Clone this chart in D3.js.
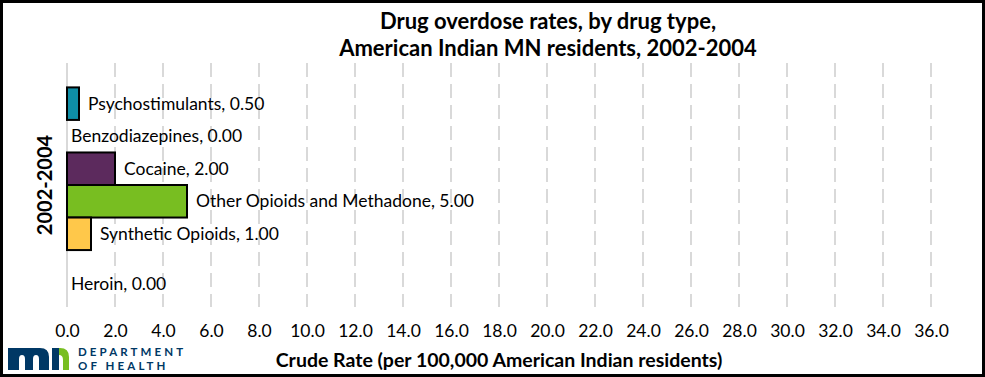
<!DOCTYPE html>
<html lang="en">
<head>
    <meta charset="UTF-8">
    <title>Drug overdose rates, by drug type</title>
    <script src="https://d3js.org/d3.v7.min.js"></script>
    <style>
        body {
            margin: 0;
            font-family: Lato, "Open Sans", Arial, sans-serif;
        }

        svg {
            display: block;
        }
    </style>
</head>
<body>
    <svg id="chart" width="985" height="377"></svg>
    <script>
        // data
        const drugTypes = ["Psychostimulants", "Benzodiazepines", "Cocaine", "Other Opioids and Methadone", "Synthetic Opioids", "Heroin"];
        const rates = [0.5, 0, 2, 5, 1, 0];
        const colors = ["#0E8EA6", "#A0A0A0", "#5C2A5D", "#78BE21", "#FFC84A", "#003865"];
        const period = "2002-2004";
        const xTicks = [0, 2, 4, 6, 8, 10, 12, 14, 16, 18, 20, 22, 24, 26, 28, 30, 32, 34, 36];

        const W = 985, H = 377;
        const plot = { left: 67, right: 931, top: 63, bottom: 307 };

        const svg = d3.select("#chart");

        svg.append("rect")
            .attr("x", 1.5).attr("y", 1.5)
            .attr("width", W - 3).attr("height", H - 3)
            .attr("fill", "white")
            .attr("stroke", "black")
            .attr("stroke-width", 3);

        const x = d3.scaleLinear()
            .domain([0, 36])
            .range([plot.left, plot.right]);

        const y = d3.scaleBand()
            .domain(drugTypes)
            .range([plot.top, plot.bottom])
            .paddingInner(0)
            .paddingOuter(0.75);

        // gridlines
        svg.append("g")
            .selectAll("line")
            .data(xTicks.filter(d => d > 0))
            .enter()
            .append("line")
            .attr("x1", d => x(d)).attr("x2", d => x(d))
            .attr("y1", plot.top).attr("y2", plot.bottom)
            .attr("stroke", "#d9d9d9")
            .attr("stroke-width", 2)
            .attr("stroke-dasharray", "14,7");

        svg.append("line")
            .attr("x1", x(0)).attr("x2", x(0))
            .attr("y1", plot.top).attr("y2", plot.bottom)
            .attr("stroke", "#d9d9d9")
            .attr("stroke-width", 2);

        // x axis labels
        const xAxis = svg.append("g")
            .attr("transform", `translate(0, 337)`)
            .call(d3.axisBottom(x).tickValues(xTicks).tickFormat(d3.format(".1f")).tickSize(0).tickPadding(0));
        xAxis.select(".domain").remove();
        xAxis.selectAll("text")
            .attr("y", 0).attr("dy", 0)
            .attr("font-family", "Lato, 'Open Sans', sans-serif")
            .attr("font-size", 17.5)
            .attr("fill", "#000");

        const data = drugTypes.map((d, i) => ({ name: d, value: rates[i], color: colors[i] }));

        svg.append("g")
            .selectAll("rect")
            .data(data.filter(d => d.value > 0))
            .enter()
            .append("rect")
            .attr("x", x(0))
            .attr("y", d => y(d.name))
            .attr("width", d => x(d.value) - x(0))
            .attr("height", y.bandwidth())
            .attr("fill", d => d.color)
            .attr("stroke", "#000")
            .attr("stroke-width", 2);

        // Excel pushed the Heroin label a little lower
        const labelShift = { "Heroin": 18 };

        svg.append("g")
            .selectAll("text")
            .data(data)
            .enter()
            .append("text")
            .attr("x", d => x(d.value) + (d.value > 0 ? 9 : 4))
            .attr("y", d => y(d.name) + y.bandwidth() / 2 + (labelShift[d.name] || 0))
            .attr("dy", "0.35em")
            .attr("font-size", 17.5)
            .attr("fill", "#000")
            .text(d => `${d.name}, ${d.value.toFixed(2)}`);

        // titles
        const title = svg.append("text")
            .attr("x", 548)
            .attr("text-anchor", "middle")
            .attr("font-size", 22)
            .attr("font-weight", "bold");
        title.append("tspan").attr("x", 548).attr("y", 29).text("Drug overdose rates, by drug type,");
        title.append("tspan").attr("x", 548).attr("y", 56).text("American Indian MN residents, 2002-2004");

        svg.append("text")
            .attr("x", (plot.left + plot.right) / 2)
            .attr("y", 367)
            .attr("text-anchor", "middle")
            .attr("font-size", 19.5)
            .attr("font-weight", "bold")
            .text("Crude Rate (per 100,000 American Indian residents)");

        svg.append("text")
            .attr("transform", `translate(52, ${(plot.top + plot.bottom) / 2}) rotate(-90)`)
            .attr("text-anchor", "middle")
            .attr("font-size", 20)
            .attr("font-weight", "bold")
            .text(period);

        // MDH logo
        const logo = svg.append("g");
        logo.append("path")
            .attr("d", "M8,370 V348 H40 Q49,348 49,357 V370 Z")
            .attr("fill", "#003865");
        logo.append("path")
            .attr("d", "M19,371 V359 Q19,355 22,355 Q25,355 25,359 V371 Z M33,371 V359 Q33,355 36,355 Q39,355 39,359 V371 Z")
            .attr("fill", "white");
        logo.append("rect")
            .attr("x", 52).attr("y", 348).attr("width", 7).attr("height", 22)
            .attr("fill", "#003865");
        logo.append("path")
            .attr("d", "M59,348 H60 Q69,348 69,357 V370 H63 V360 Q63,355 59,355 Z")
            .attr("fill", "#78BE21");
        logo.append("text")
            .attr("x", 78).attr("y", 356)
            .attr("font-size", 11.5).attr("font-weight", "bold")
            .attr("letter-spacing", 3.1)
            .attr("fill", "#003865")
            .text("DEPARTMENT");
        logo.append("text")
            .attr("x", 78).attr("y", 370)
            .attr("font-size", 11.5).attr("font-weight", "bold")
            .attr("letter-spacing", 3.1)
            .attr("fill", "#003865")
            .text("OF HEALTH");
    </script>
</body>
</html>
